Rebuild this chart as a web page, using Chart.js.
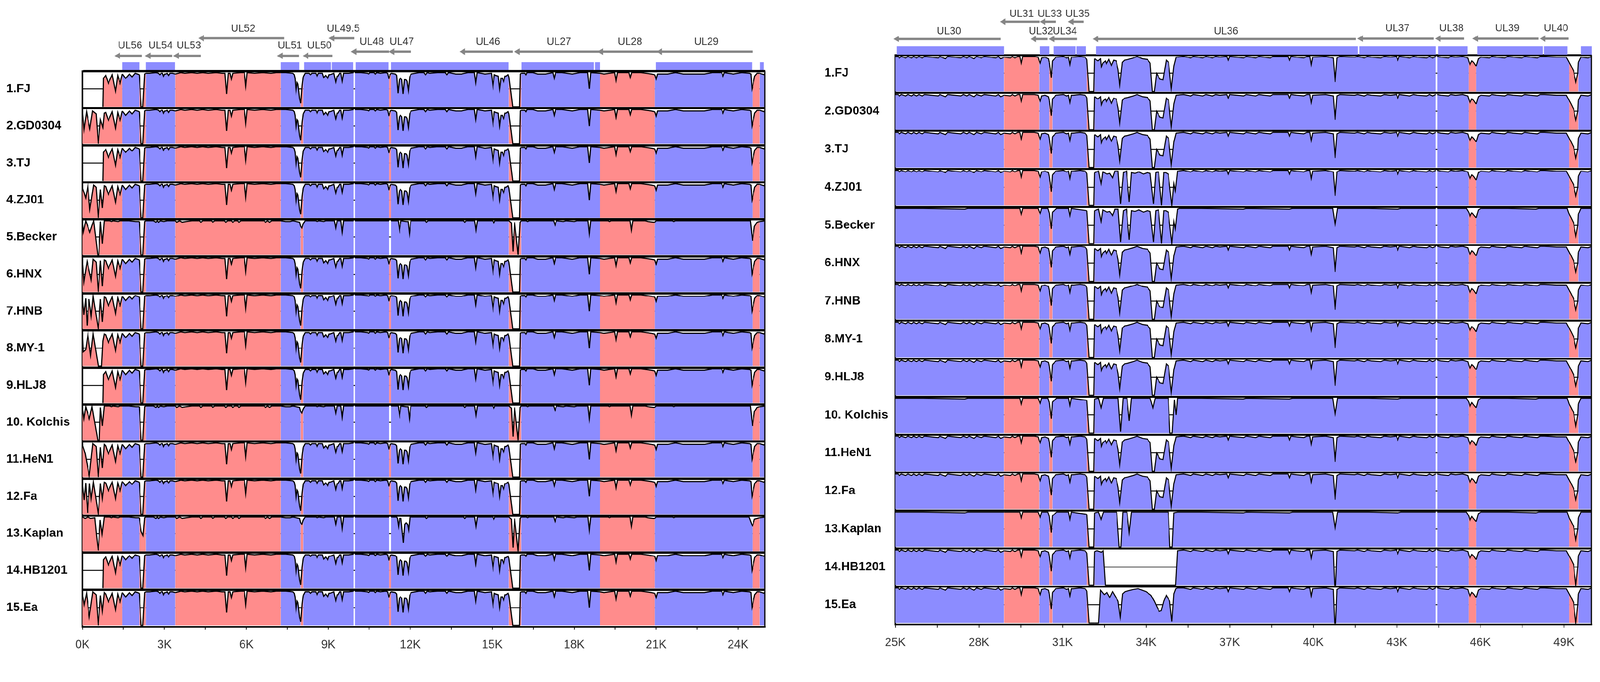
<!DOCTYPE html>
<html>
<head>
<meta charset="utf-8">
<title>mVISTA alignment</title>
<script src="https://cdn.jsdelivr.net/npm/chart.js"></script>
<style>
  html, body { margin: 0; padding: 0; background: #fff; overflow: hidden; }
  body { width: 100vw; height: 100vh; }
  #page { position: absolute; left: 0; top: 0; width: 4250px; height: 1745px; transform-origin: 0 0; }
  .panel { position: absolute; top: 0; }
</style>
</head>
<body>
<div id="page">
  <div class="panel" style="left:0px;width:2060px;height:1745px"><canvas id="leftChart" width="2060" height="1745"></canvas></div>
  <div class="panel" style="left:2150px;width:2100px;height:1745px"><canvas id="rightChart" width="2100" height="1745"></canvas></div>
</div>
<script>
// fit the 4250 px wide figure into whatever viewport we get
var fit = Math.min(window.innerWidth / 4250, window.innerHeight / 1745) || 1;
document.getElementById('page').style.transform = 'scale(' + fit + ')';

var BLUE = '#8c8cff', RED = '#ff8c8c', GREY = '#858585';

var strains = ['1.FJ', '2.GD0304', '3.TJ', '4.ZJ01', '5.Becker', '6.HNX', '7.HNB', '8.MY-1',
  '9.HLJ8', '10. Kolchis', '11.HeN1', '12.Fa', '13.Kaplan', '14.HB1201', '15.Ea'];

// ---------- left half, 0-25 kb ----------
var leftRegionEdges = [0, 1.46, 2.08, 2.32, 3.40, 7.26, 7.99, 8.08, 11.22, 11.30, 15.61, 16.06, 18.95, 20.95, 24.53, 24.79, 25];
var leftRegionKinds = ['r', 'b', 'r', 'b', 'r', 'b', 'r', 'b', 'r', 'b', 'r', 'b', 'r', 'b', 'r', 'b'];
var leftTickVals = [0, 3, 6, 9, 12, 15, 18, 21, 24];
var leftTickLabels = ['0K', '3K', '6K', '9K', '12K', '15K', '18K', '21K', '24K'];

var leftGeneNames = ['UL56', 'UL54', 'UL53', 'UL52', 'UL51', 'UL50', 'UL49.5', 'UL48', 'UL47', 'UL46', 'UL27', 'UL28', 'UL29'];
var leftGeneStart = [1.31, 2.42, 3.46, 4.38, 7.26, 8.20, 9.15, 9.96, 11.35, 13.94, 15.94, 18.99, 21.15];
var leftGeneEnd   = [2.18, 3.29, 4.33, 7.38, 7.93, 9.15, 9.95, 11.22, 12.03, 15.75, 18.95, 21.10, 24.53];
var leftGeneTier  = [0, 0, 0, 2, 0, 0, 2, 1, 1, 1, 1, 1, 1];

var leftExonStart = [1.46, 2.32, 7.26, 8.11, 9.13, 10.0, 11.3, 16.07, 18.76, 20.99, 24.8];
var leftExonEnd   = [2.08, 3.39, 7.94, 9.10, 9.91, 11.2, 15.6, 18.72, 18.95, 24.51, 24.95];

var leftBodyA = [
  [0.85,94],[0.95,83],[1.09,95],[1.21,72],[1.29,94],[1.38,83],[1.46,96],[1.58,90],[1.72,96],[1.82,92],[1.93,97],[2.01,96],[2.08,95],
  [2.15,50],[2.21,50],[2.28,96],[2.32,97],
  [2.45,97],[2.7,98],[2.78,97],[2.83,95],[2.88,97],[2.93,97],[2.97,93],[3.01,96],[3.05,96],[3.1,97],[3.15,94],[3.2,97],[3.3,97],[3.4,96],
  [3.6,98],[3.75,97],[4.0,98],[4.2,97],[4.4,98],[4.6,97],[4.9,98],[5.1,97],[5.22,97],[5.28,68],[5.34,97],[5.4,97],[5.45,89],[5.5,97],
  [5.8,98],[5.93,98],[5.98,79],[6.03,98],[6.3,97],[6.6,98],[6.9,97],[7.1,98],[7.26,98],
  [7.45,98],[7.7,97],[7.75,95],[7.78,90],[7.82,72],[7.86,84],[7.89,82],[7.95,62],[7.99,55],[8.04,80],[8.08,92],[8.15,97],
  [8.3,97],[8.35,95],[8.4,97],[8.54,97],[8.59,93],[8.64,97],[8.78,97],[8.83,91],[8.9,94],[8.98,90],[9.03,95],[9.07,95],[9.2,97],
  [9.27,85],[9.32,93],[9.36,93],[9.42,97],[9.46,97],[9.51,86],[9.56,97],[9.75,97],[9.93,98],[9.945,null],[9.97,98],
  [10.2,98],[10.43,97],[10.48,96],[10.53,98],[10.67,98],[10.72,96],[10.77,98],[10.91,97],[11.1,98],[11.17,97],[11.22,89],[11.26,95],[11.30,97],
  [11.45,96],[11.5,94],[11.55,69],[11.6,88],[11.64,90],[11.69,88],[11.74,68],[11.79,88],[11.84,88],[11.88,86],[11.93,73],[11.98,92],
  [12.03,96],[12.32,98],[12.5,98],[12.56,95],[12.62,98],[12.71,97],[13.0,98],[13.28,98],[13.34,95],[13.4,98],[13.53,97],[13.67,96],
  [13.87,96],[14.11,98],[14.35,98],[14.4,84],[14.45,98],[14.74,96],[14.97,97],[15.03,79],[15.08,95],[15.13,94],[15.22,93],[15.27,75],
  [15.32,90],[15.37,90],[15.42,85],[15.47,93],[15.51,93],[15.58,95],[15.61,92],[15.75,50],[16.0,50],[16.03,96],[16.06,97],
  [16.2,97],[16.24,95],[16.28,98],[16.48,98],[16.67,96],[16.96,96],[17.22,98],[17.27,90],[17.32,98],[17.55,98],[17.93,96],[18.22,98],
  [18.5,98],[18.56,75],[18.61,98],[18.95,97],
  [19.09,96],[19.29,97],[19.48,98],[19.53,87],[19.58,98],[20.01,98],[20.06,91],[20.11,98],[20.45,98],[20.83,96],[20.95,95],[21.0,89],[21.05,96],
  [21.42,96],[21.71,98],[22.0,96],[22.38,96],[22.77,96],[23.06,98],[23.4,98],[23.45,93],[23.5,98],[23.64,97],[23.83,96],[24.13,98],
  [24.42,97],[24.47,96],[24.51,75],[24.53,78],[24.61,93],[24.7,97],[24.79,97],[24.95,95],[25,97]
];

var leftBodyB = [
  [0.85,98],[1.0,98],[1.07,97],[1.12,98],[1.3,97],[1.38,98],[1.46,98],[1.7,98],[1.95,97],[2.08,97],
  [2.15,50],[2.21,50],[2.28,97],[2.32,98],
  [2.6,98],[2.69,96],[2.74,98],[2.78,96],[2.85,98],[2.98,97],[3.1,98],[3.4,98],
  [3.45,96],[3.55,98],[3.65,96],[3.8,97],[4.0,98],[4.28,98],[4.33,96],[4.4,98],[4.72,98],[4.77,96],[4.85,98],[5.2,98],[5.25,96],
  [5.32,98],[5.45,98],[5.5,96],[5.58,98],[5.68,98],[5.73,96],[5.8,98],[6.65,98],[6.7,96],[6.78,98],[6.85,96],[6.93,98],[7.26,98],
  [7.43,97],[7.6,97],[7.7,98],[7.95,96],[7.99,90],[8.03,88],[8.08,94],[8.15,98],
  [8.54,98],[8.59,97],[8.66,98],[8.83,97],[8.9,98],[9.22,98],[9.27,88],[9.32,98],[9.46,98],[9.51,82],[9.56,98],[9.93,98],[9.945,null],[9.97,98],
  [10.5,98],[11.0,98],[11.22,98],[11.25,null],[11.30,98],
  [11.56,98],[11.61,85],[11.66,98],[11.85,97],[11.92,97],[11.97,80],[12.02,98],[12.55,98],[12.59,96],[12.65,98],[13.95,98],[14.0,96],
  [14.05,98],[14.36,98],[14.41,85],[14.46,98],[15.02,98],[15.06,95],[15.1,98],[15.61,98],[15.7,95],[15.76,55],[15.82,96],[15.88,75],
  [15.95,50],[16.02,96],[16.06,98],
  [16.25,98],[16.3,97],[16.35,98],[17.25,98],[17.3,92],[17.35,98],[17.6,97],[17.7,98],[18.0,97],[18.1,98],[18.51,98],[18.56,80],[18.61,98],[18.95,98],
  [19.25,98],[19.3,97],[19.35,98],[20.05,98],[20.1,85],[20.15,98],[20.6,98],[20.7,97],[20.9,96],[20.95,96],[21.0,98],
  [21.6,98],[21.65,97],[21.7,98],[23.5,98],[24.45,98],[24.53,70],[24.6,90],[24.7,96],[24.79,97],[25,98]
];

var startGap     = [[0.75,50],[0.77,90]];
var startGD0304  = [[0,95],[0.055,70],[0.15,95],[0.27,71],[0.37,96],[0.5,92],[0.58,50],[0.66,84],[0.75,73],[0.8,93]];
var startZJ01    = [[0,92],[0.12,78],[0.2,95],[0.27,62],[0.41,96],[0.5,93],[0.58,50],[0.66,90],[0.73,64],[0.8,95]];
var startBecker  = [[0,96],[0.03,82],[0.12,98],[0.27,82],[0.41,98],[0.56,50],[0.6,50],[0.66,97],[0.73,66],[0.8,98]];
var startHNX     = [[0,93],[0.05,64],[0.17,93],[0.32,67],[0.39,96],[0.5,92],[0.58,50],[0.66,94],[0.73,58],[0.8,95]];
var startHNB     = [[0,93],[0.05,70],[0.12,93],[0.17,55],[0.24,92],[0.32,68],[0.39,96],[0.58,50],[0.66,92],[0.73,60],[0.8,95]];
var startMY1     = [[0,95],[0.03,70],[0.12,73],[0.2,94],[0.3,65],[0.39,95],[0.58,50],[0.7,50],[0.75,85],[0.8,95]];
var startKolchis = [[0,95],[0.05,80],[0.12,97],[0.25,80],[0.35,97],[0.56,50],[0.62,50],[0.66,96],[0.73,70],[0.8,98]];
var startHeN1    = [[0,95],[0.1,83],[0.25,52],[0.38,97],[0.5,93],[0.58,50],[0.66,92],[0.73,63],[0.8,96]];
var startFa      = [[0,92],[0.06,70],[0.12,94],[0.19,52],[0.26,93],[0.32,72],[0.4,95],[0.58,50],[0.66,93],[0.73,72],[0.8,95]];
var startKaplan  = [[0,98],[0.1,96],[0.2,98],[0.3,96],[0.45,97],[0.52,70],[0.58,51],[0.65,94],[0.72,74],[0.8,98]];
var startEa      = [[0,93],[0.06,79],[0.15,95],[0.25,62],[0.38,97],[0.5,93],[0.58,50],[0.66,92],[0.73,70],[0.8,96]];

var kaplanLeftPatches = [
  [[2.08,97],[2.15,78],[2.22,72],[2.28,97],[2.32,98]],
  [[11.5,98],[11.53,96],[11.57,85],[11.61,96],[11.66,96],[11.75,62],[11.8,88],[11.85,90],[11.9,88],[11.94,80],[11.99,98],[12.05,98]],
  [[24.4,98],[24.53,85],[24.6,95]]
];

var leftRowStart = [startGap, startGD0304, startGap, startZJ01, startBecker, startHNX, startHNB, startMY1,
  startGap, startKolchis, startHeN1, startFa, startKaplan, startGap, startEa];
var leftRowBody = ['A', 'A', 'A', 'A', 'B', 'A', 'A', 'A', 'A', 'B', 'A', 'A', 'B', 'A', 'A'];
var leftRowPatches = [[], [], [], [], [], [], [], [], [], [], [], [], kaplanLeftPatches, [], []];

// ---------- right half, 25-50 kb ----------
var rightRegionEdges = [25, 28.91, 30.17, 30.53, 30.64, 31.88, 32.15, 45.58, 45.85, 49.19, 49.52, 50];
var rightRegionKinds = ['b', 'r', 'b', 'r', 'b', 'r', 'b', 'r', 'b', 'r', 'b'];
var rightTickVals = [25, 28, 31, 34, 37, 40, 43, 46, 49];
var rightTickLabels = ['25K', '28K', '31K', '34K', '37K', '40K', '43K', '46K', '49K'];

var rightGeneNames = ['UL30', 'UL31', 'UL32', 'UL33', 'UL34', 'UL35', 'UL36', 'UL37', 'UL38', 'UL39', 'UL40'];
var rightGeneStart = [25.07, 28.89, 29.99, 30.32, 30.64, 31.33, 32.22, 41.72, 44.51, 45.85, 48.27];
var rightGeneEnd   = [28.78, 30.18, 30.47, 30.77, 31.53, 31.76, 41.53, 44.33, 45.42, 48.09, 49.17];
var rightGeneTier  = [0, 2, 0, 2, 0, 2, 0, 1, 1, 1, 1];

var rightExonStart = [25.05, 30.19, 30.68, 31.51, 32.2, 41.66, 44.48, 45.89, 48.29, 49.61];
var rightExonEnd   = [28.91, 30.53, 31.48, 31.85, 41.61, 44.4, 45.54, 48.24, 49.13, 50.0];

var rightBodyA = [
  [25,98],[25.1,98],[25.15,96],[25.22,98],[25.37,96],[25.45,98],[25.59,96],[25.66,98],[25.76,96],[25.85,98],[25.97,96],[26.05,98],
  [26.54,96],[26.6,98],[26.8,95],[26.88,98],[27.36,96],[27.45,98],[27.57,96],[27.65,98],[27.83,95],[27.92,98],[28.09,96],[28.2,98],
  [28.61,96],[28.7,98],[28.78,95],[28.91,97],
  [29.13,96],[29.2,98],[29.3,96],[29.4,98],[29.47,98],[29.52,89],[29.57,98],[30.0,98],[30.13,97],[30.17,92],
  [30.2,89],[30.25,96],[30.38,97],[30.5,95],[30.53,90],[30.6,69],[30.64,92],
  [30.77,97],[31.03,98],[31.16,96],[31.22,97],[31.27,87],[31.32,97],[31.38,97],[31.64,98],[31.81,97],[31.88,94],
  [31.96,50],[32.12,50],[32.15,95],
  [32.28,92],[32.37,95],[32.4,84],[32.45,89],[32.54,92],[32.58,88],[32.67,94],[32.76,86],[32.84,93],[32.93,92],[33.0,80],[33.06,59],
  [33.15,90],[33.23,93],[33.36,94],[33.54,96],[33.68,98],[33.88,95],[34.05,94],[34.15,89],[34.23,50],[34.3,50],[34.38,75],[34.5,67],
  [34.61,66],[34.73,93],[34.81,90],[34.91,54],[35.0,85],[35.08,97],
  [35.35,98],[35.61,96],[35.7,98],[35.87,97],[36.04,96],[36.15,98],[36.39,96],[36.5,98],[36.65,97],[36.9,98],[36.95,93],[37.0,98],
  [37.51,96],[37.6,98],[37.94,96],[38.05,98],[38.24,97],[38.46,96],[38.55,98],[38.8,98],[39.1,98],[39.15,93],[39.2,98],[39.41,97],
  [39.67,96],[39.78,98],[39.88,98],[39.93,87],[39.98,97],[40.45,98],[40.72,96],[40.79,63],[40.86,96],[40.96,98],[41.48,97],[41.6,98],
  [41.83,96],[41.95,98],[42.09,97],[42.43,96],[42.55,98],[42.78,97],[42.99,98],[43.04,93],[43.09,98],[43.47,96],[43.6,98],[43.73,97],
  [44.07,96],[44.18,98],[44.29,96],[44.4,98],[44.425,null],[44.45,98],[44.59,97],[44.85,96],[44.95,98],[45.11,97],[45.37,98],
  [45.55,96],[45.58,92],[45.63,87],[45.7,92],[45.76,90],[45.85,85],
  [45.93,95],[46.02,97],[46.32,96],[46.42,98],[46.58,97],[46.88,96],[46.98,98],[47.19,97],[47.49,96],[47.6,98],[47.79,97],
  [48.05,96],[48.15,98],[48.31,98],[48.74,97],[49.09,97],[49.19,90],
  [49.26,85],[49.35,78],[49.43,63],[49.5,75],[49.52,90],
  [49.61,97],[49.87,96],[50,98]
];

var rightBodyF = [
  [25,98],[26.0,98],[27.5,97],[27.6,98],[28.91,98],[29.3,98],[29.47,98],[29.52,90],[29.57,98],[30.13,98],[30.17,94],[30.2,91],
  [30.25,98],[30.48,98],[30.53,92],
  [30.6,70],[30.64,93],[30.8,98],[31.22,98],[31.27,88],[31.32,98],[31.88,95],[31.96,50],[32.12,50],[32.15,95],[35.2,98],
  [36.0,98],[37.5,97],[37.6,98],[39.15,97],[39.25,98],[40.7,98],[40.79,75],[40.88,98],[42.0,98],[43.04,97],[43.15,98],
  [44.4,98],[44.425,null],[44.45,98],[45.5,98],[45.58,93],[45.63,87],[45.7,92],[45.76,89],[45.85,85],[45.93,96],[46.02,98],
  [47.0,98],[48.0,97],[48.1,98],[49.12,98],[49.19,90],[49.26,85],[49.35,78],[49.43,60],[49.5,75],[49.52,90],[49.61,98],[50,98]
];

var winZJ01 = [[32.15,95],[32.3,97],[32.39,80],[32.45,96],[32.6,93],[32.7,94],[32.8,88],[32.88,97],[33.0,97],[33.09,52],[33.19,95],
  [33.3,97],[33.4,55],[33.48,95],[33.6,94],[33.75,96],[33.91,93],[34.05,95],[34.15,94],[34.27,52],[34.35,95],[34.45,96],
  [34.56,50],[34.64,95],[34.71,95],[34.8,93],[34.93,50],[35.0,80],[35.05,70],[35.13,97]];
var winKolchis = [[32.15,97],[32.3,98],[32.39,85],[32.47,98],[33.0,98],[33.09,52],[33.18,98],[33.32,98],[33.4,67],[33.48,98],
  [34.15,98],[34.25,85],[34.33,98],[34.8,98],[34.86,50],[34.94,50],[35.02,96],[35.08,75],[35.13,98]];
var winKaplan = [[32.15,97],[32.3,98],[32.39,88],[32.47,98],[32.95,98],[33.04,50],[33.1,50],[33.17,98],[33.32,98],[33.4,70],
  [33.48,98],[34.8,98],[34.86,50],[34.94,50],[35.0,97],[35.13,98]];
var winHB1201 = [[32.15,96],[32.25,97],[32.4,95],[32.46,97],[32.54,50],[35.06,50],[35.13,97]];
var winEa = [[32.15,50],[32.3,50],[32.37,95],[32.5,89],[32.6,92],[32.7,85],[32.8,93],[33.0,80],[33.08,58],[33.16,90],[33.25,93],
  [33.55,96],[33.72,97],[34.0,93],[34.18,88],[34.3,80],[34.47,66],[34.55,67],[34.64,80],[34.73,88],[34.85,80],[34.93,52],
  [35.0,90],[35.07,97],[35.13,98]];
var deepDip40 = [[40.72,96],[40.77,50],[40.81,50],[40.86,96]];
var deepDip49 = [[49.35,78],[49.43,50],[49.5,75]];

var rightRowBody = ['A', 'A', 'A', 'A', 'F', 'A', 'A', 'A', 'A', 'F', 'A', 'A', 'F', 'A', 'A'];
var rightRowPatches = [[], [], [], [winZJ01], [winZJ01], [], [], [], [], [winKolchis], [], [], [winKaplan],
  [winHB1201, deepDip40, deepDip49], [winEa, deepDip40, deepDip49]];

// ---------- helpers ----------
function rowSeries(start, body, patches) {
  var pts = start.concat(body);
  patches.forEach(function (patch) {
    var a = patch[0][0], b = patch[patch.length - 1][0];
    pts = pts.filter(function (q) { return q[0] < a || q[0] > b; }).concat(patch);
  });
  pts.sort(function (u, v) { return u[0] - v[0]; });
  return pts.map(function (q) { return {x: q[0], y: q[1]}; });
}

function colourAt(edges, kinds, x) {
  for (var i = 0; i < kinds.length; i++) {
    if (x >= edges[i] && x < edges[i + 1]) return kinds[i] === 'r' ? RED : BLUE;
  }
  return BLUE;
}

var leftRows = leftRowStart.map(function (s, r) {
  return rowSeries(s, leftRowBody[r] === 'A' ? leftBodyA : leftBodyB, leftRowPatches[r]);
});
var rightRows = rightRowBody.map(function (b, r) {
  return rowSeries([], b === 'A' ? rightBodyA : rightBodyF, rightRowPatches[r]);
});

Chart.defaults.font.family = '"Liberation Sans", Arial, sans-serif';

function buildPanel(canvasId, p) {
  var rowH = (p.bottom - p.geneH) / 15;
  var datasets = [];

  p.rows.forEach(function (series, r) {
    datasets.push({
      label: strains[r],
      data: series,
      yAxisID: 'row' + r,
      borderColor: '#000',
      borderWidth: p.curveW,
      pointRadius: 0,
      tension: 0,
      spanGaps: false,
      backgroundColor: BLUE,
      fill: {value: 50},
      order: 2,
      segment: {
        backgroundColor: function (ctx) {
          return colourAt(p.edges, p.kinds, (ctx.p0.parsed.x + ctx.p1.parsed.x) / 2);
        }
      }
    });
  });

  p.exonStart.forEach(function (s, i) {
    datasets.push({
      data: [{x: s, y: p.exonY}, {x: p.exonEnd[i], y: p.exonY}],
      yAxisID: 'genes', borderColor: BLUE, borderWidth: p.exonH, borderCapStyle: 'butt',
      pointRadius: 0, fill: false, clip: false, order: 1
    });
  });

  p.geneNames.forEach(function (n, i) {
    var y = p.tierArrow[p.geneTier[i]];
    datasets.push({
      data: [{x: p.geneStart[i], y: y}, {x: p.geneEnd[i], y: y}],
      yAxisID: 'genes', borderColor: GREY, borderWidth: 6,
      pointRadius: [10, 0], pointStyle: 'triangle', pointRotation: 270,
      pointBackgroundColor: GREY, pointBorderColor: GREY, pointBorderWidth: 0,
      fill: false, clip: false, order: 1
    });
  });

  var minor = p.tickVals.map(function (v) { return v + 1.5; }).filter(function (v) { return v < p.max; });
  var allTicks = p.tickVals.concat(minor).sort(function (a, b) { return a - b; });

  var scales = {
    x: {
      type: 'linear', position: 'bottom', min: p.min, max: p.max,
      afterBuildTicks: function (s) { s.ticks = allTicks.map(function (v) { return {value: v}; }); },
      afterFit: function (s) { s.height = p.xAxisH; },
      ticks: {
        autoSkip: false, maxRotation: 0, padding: 22, color: '#333', font: {size: 31},
        callback: function (v) { var i = p.tickVals.indexOf(v); return i >= 0 ? p.tickLabels[i] : ''; }
      },
      grid: {drawOnChartArea: false, drawTicks: true, tickLength: 8, color: '#000', tickWidth: 2},
      border: {display: true, color: '#000', width: 4}
    },
    genes: {
      type: 'linear', position: 'left', stack: 'rows', stackWeight: p.geneH, weight: 100,
      min: 0, max: p.geneH, reverse: true,
      afterFit: function (s) { s.width = p.axisW; },
      ticks: {display: false}, grid: {display: false}, border: {display: false}
    }
  };

  strains.forEach(function (name, r) {
    scales['row' + r] = {
      type: 'linear', position: 'left', stack: 'rows', stackWeight: rowH, weight: 50 - r,
      min: 48, max: 100,
      afterBuildTicks: function (s) { s.ticks = [{value: 75}, {value: 100}]; },
      afterFit: function (s) { s.width = p.axisW; },
      ticks: {
        autoSkip: false, crossAlign: 'far', padding: 0, color: '#000',
        font: {size: 32, weight: 'bold', lineHeight: 0.01},
        callback: function (v) { return v === 75 ? name : ''; }
      },
      grid: {
        drawTicks: false, color: '#000',
        lineWidth: function (ctx) { return ctx.tick && ctx.tick.value === 100 ? p.topLineW : 2.5; }
      },
      border: {display: true, color: '#000', width: 4}
    };
  });

  var decor = {
    id: 'decor',
    afterDatasetsDraw: function (chart) {
      var c = chart.ctx, xs = chart.scales.x, gs = chart.scales.genes, area = chart.chartArea;
      c.save();
      c.fillStyle = '#333';
      c.font = '27px "Liberation Sans", Arial, sans-serif';
      c.textAlign = 'center';
      c.textBaseline = 'middle';
      p.geneNames.forEach(function (n, i) {
        var mid = (p.geneStart[i] + p.geneEnd[i]) / 2;
        c.fillText(n, xs.getPixelForValue(mid), gs.getPixelForValue(p.tierLabel[p.geneTier[i]]));
      });
      c.strokeStyle = '#000';
      c.lineWidth = 3;
      c.beginPath();
      c.moveTo(area.right - 1, gs.bottom);
      c.lineTo(area.right - 1, area.bottom);
      c.stroke();
      c.restore();
    }
  };

  return new Chart(document.getElementById(canvasId), {
    type: 'line',
    data: {datasets: datasets},
    options: {
      responsive: false, animation: false, devicePixelRatio: 1, events: [],
      layout: {padding: {left: p.padLeft, right: p.padRight, top: 0, bottom: 0}},
      plugins: {legend: {display: false}, tooltip: {enabled: false}, title: {display: false}},
      scales: scales
    },
    plugins: [decor]
  });
}

buildPanel('leftChart', {
  rows: leftRows, edges: leftRegionEdges, kinds: leftRegionKinds, min: 0, max: 25,
  tickVals: leftTickVals, tickLabels: leftTickLabels,
  geneNames: leftGeneNames, geneStart: leftGeneStart, geneEnd: leftGeneEnd, geneTier: leftGeneTier,
  exonStart: leftExonStart, exonEnd: leftExonEnd,
  tierArrow: [139, 128, 92], tierLabel: [112, 102, 67], exonY: 166.5, exonH: 21,
  geneH: 180, bottom: 1664, xAxisH: 81, padLeft: 17, padRight: 27, axisW: 202,
  curveW: 3, topLineW: 6
});

buildPanel('rightChart', {
  rows: rightRows, edges: rightRegionEdges, kinds: rightRegionKinds, min: 25, max: 50,
  tickVals: rightTickVals, tickLabels: rightTickLabels,
  geneNames: rightGeneNames, geneStart: rightGeneStart, geneEnd: rightGeneEnd, geneTier: rightGeneTier,
  exonStart: rightExonStart, exonEnd: rightExonEnd,
  tierArrow: [94, 93, 48], tierLabel: [74, 66, 28], exonY: 124.5, exonH: 23,
  geneH: 137, bottom: 1658, xAxisH: 87, padLeft: 40, padRight: 22, axisW: 188,
  curveW: 2.7, topLineW: 5
});
</script>
</body>
</html>
